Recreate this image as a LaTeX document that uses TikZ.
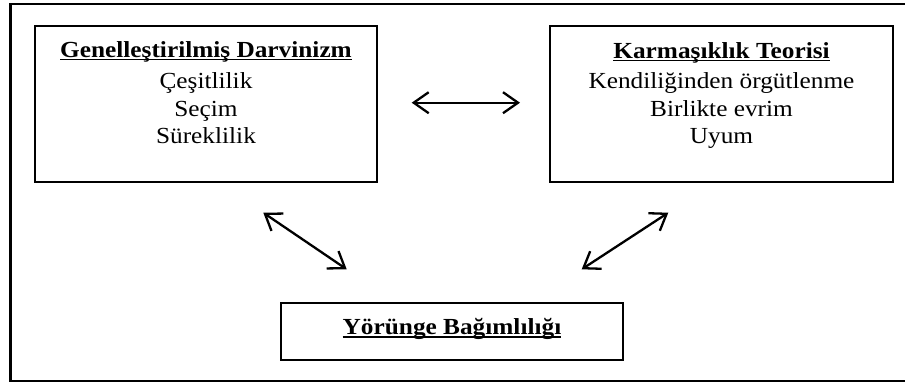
\documentclass[tikz,border=0pt]{standalone}
\usepackage{fontspec}
\setmainfont{Liberation Serif}[FakeStretch=1.1]
\usetikzlibrary{arrows.meta}
% bold heading with a rule close under the baseline
\newcommand\headul[1]{\setbox0\hbox{\bfseries #1}\rlap{\rule[-3.2pt]{\wd0}{1.5pt}}\box0}
\begin{document}
\begin{tikzpicture}[x=1pt,y=-1pt,
  box/.style={draw, line width=2pt, inner sep=0pt},
  txt/.style={anchor=base, inner sep=0pt, font=\fontsize{23}{27}\selectfont},
  link/.style={line width=2.3pt,
    {Straight Barb[length=15pt,width=21pt]}-{Straight Barb[length=15pt,width=21pt]}}]
\useasboundingbox (0,0) rectangle (905,383);
\clip (0,0) rectangle (905,383);

% outer frame, open past the right edge
\draw[line width=2.2pt] (915,3.7) -- (10.5,3.7) -- (10.5,381) -- (915,381);

% boxes
\node[box, minimum width=342pt, minimum height=156pt] (gd) at (206,104) {};
\node[box, minimum width=343pt, minimum height=156pt] (kt) at (721.5,104) {};
\node[box, minimum width=342pt, minimum height=57pt] (yb) at (452,331.5) {};

% left box text
\node[txt] (gd0) at (206,57) {\headul{Genelleştirilmiş Darvinizm}};
\node[txt] (gd1) at (206,88) {Çeşitlilik};
\node[txt] (gd2) at (206,116) {Seçim};
\node[txt] (gd3) at (206,143) {Süreklilik};

% right box text
\node[txt] (kt0) at (721.5,58) {\headul{Karmaşıklık Teorisi}};
\node[txt] (kt1) at (721.5,88) {Kendiliğinden örgütlenme};
\node[txt] (kt2) at (721.5,116) {Birlikte evrim};
\node[txt] (kt3) at (721.5,143) {Uyum};

% bottom box text
\node[txt] (yb0) at (452,334.5) {\headul{Yörünge Bağımlılığı}};

% arrow end points
\coordinate (h1) at (411.7,102.7);
\coordinate (h2) at (520,102.7);
\coordinate (l1) at (263.3,212.7);
\coordinate (l2) at (346.7,269.3);
\coordinate (r1) at (581.7,269.3);
\coordinate (r2) at (668.3,212.7);

\draw[link] (h1) -- (h2);
\draw[link] (l1) -- (l2);
\draw[link] (r1) -- (r2);
\end{tikzpicture}
\end{document}
